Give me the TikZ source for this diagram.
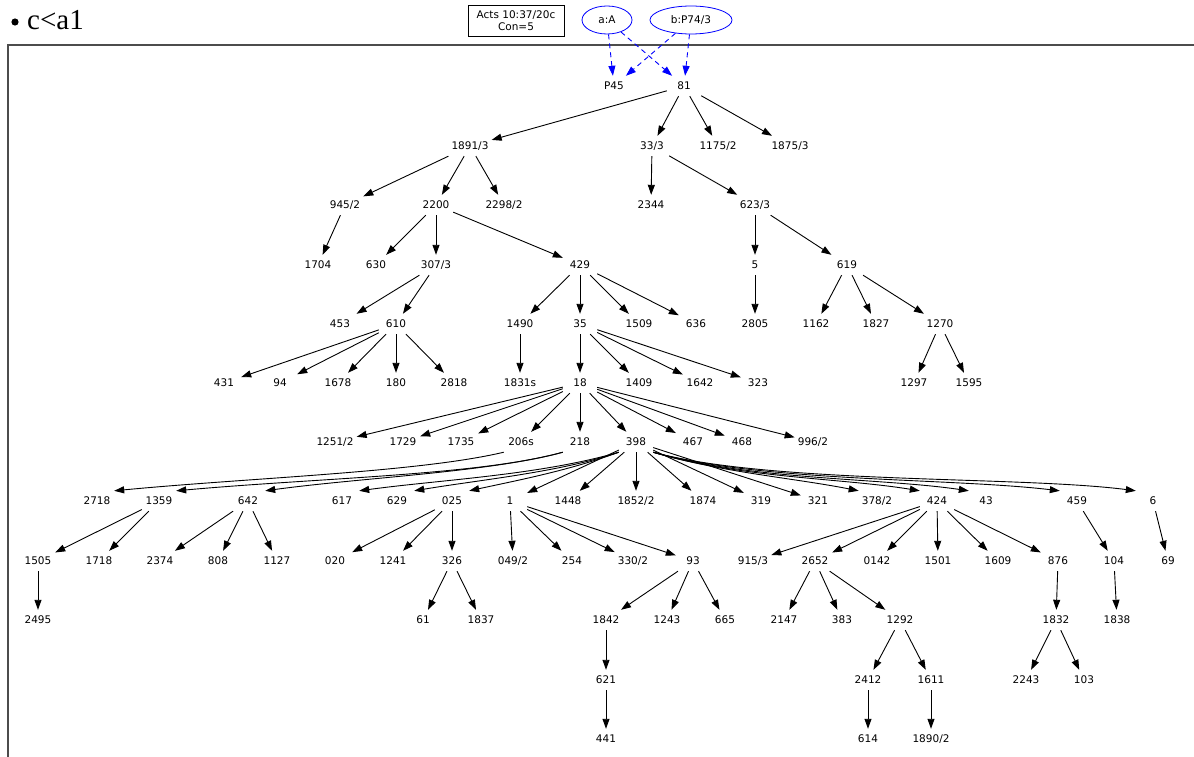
\documentclass[tikz,border=0pt]{standalone}
\usepackage{fontspec}
\newfontfamily\gvfont{DejaVu Sans}
\newfontfamily\titlefont{Liberation Serif}
\usetikzlibrary{arrows.meta}
\usetikzlibrary{shapes.geometric}

\begin{document}
\begin{tikzpicture}[x=1pt,y=-1pt,
    lbl/.style={font=\gvfont\fontsize{10.5}{12.5}\selectfont,inner xsep=3pt,inner ysep=0pt,minimum width=34pt,minimum height=20pt},
    lnk/.style={-{Triangle[length=10pt,width=7pt]},line width=0.9pt},
    dlnk/.style={lnk,blue,dash pattern=on 5pt off 4pt}]
  % Boundary
  \path[use as bounding box] (0,0) rectangle (1194,757);
  % Heading and frame
  \fill (15,22) circle (3.6);
  \node[anchor=base west,inner sep=0,font=\titlefont\fontsize{29}{29}\selectfont] (title) at (27,30) {c<a1};
  \draw[line width=1.3pt,black!70] (1194,45) -- (8,45) -- (8,757);
  % Witnesses
  \node[lbl,draw,line width=0.8pt,align=center,minimum width=96,minimum height=31,inner sep=0] (acts) at (516,20.5) {Acts 10:37/20c\\Con=5};
  \node[lbl,ellipse,draw=blue,line width=0.8pt,minimum width=50,minimum height=28,inner sep=0] (wa) at (607,20) {a:A};
  \node[lbl,ellipse,draw=blue,line width=0.8pt,minimum width=82,minimum height=28,inner sep=0] (wb) at (691,20) {b:P74/3};
  % Rows of readings
  \foreach \n/\x/\lab in {P45/614/P45,81/684/81}
    \node[lbl] (n\n) at (\x,86) {\lab};
  \foreach \n/\x/\lab in {1891-3/470/{1891/3},33-3/652/{33/3},1175-2/718/{1175/2},1875-3/790/{1875/3}}
    \node[lbl] (n\n) at (\x,146) {\lab};
  \foreach \n/\x/\lab in {945-2/345/{945/2},2200/436/2200,2298-2/504/{2298/2},2344/651/2344,623-3/755/{623/3}}
    \node[lbl] (n\n) at (\x,205) {\lab};
  \foreach \n/\x/\lab in {1704/318/1704,630/376/630,307-3/436/{307/3},429/580/429,5/755/5,619/847/619}
    \node[lbl] (n\n) at (\x,265) {\lab};
  \foreach \n/\x in {453/340,610/396,1490/520,35/580,1509/639,636/696,2805/755,1162/816,1827/876,1270/940}
    \node[lbl] (n\n) at (\x,324) {\n};
  \foreach \n/\x in {431/224,94/280,1678/338,180/396,2818/454,1831s/520,18/580,1409/639,1642/700,323/758,1297/914,1595/969}
    \node[lbl] (n\n) at (\x,383) {\n};
  \foreach \n/\x/\lab in {1251-2/335/{1251/2},1729/403/1729,1735/461/1735,206s/521/206s,218/580/218,398/636/398,467/693/467,468/742/468,996-2/813/{996/2}}
    \node[lbl] (n\n) at (\x,442) {\lab};
  \foreach \n/\x/\lab in {2718/97/2718,1359/159/1359,642/248/642,617/342/617,629/397/629,025/452/025,1/510/1,1448/568/1448,1852-2/636/{1852/2},1874/703/1874,319/761/319,321/818/321,378-2/877/{378/2},424/937/424,43/986/43,459/1077/459,6/1153/6}
    \node[lbl] (n\n) at (\x,501) {\lab};
  \foreach \n/\x/\lab in {1505/38/1505,1718/99/1718,2374/160/2374,808/218/808,1127/277/1127,020/335/020,1241/393/1241,326/452/326,049-2/513/{049/2},254/572/254,330-2/633/{330/2},93/693/93,915-3/753/{915/3},2652/815/2652,0142/877/0142,1501/938/1501,1609/998/1609,876/1058/876,104/1114/104,69/1168/69}
    \node[lbl] (n\n) at (\x,561) {\lab};
  \foreach \n/\x in {2495/38,61/423,1837/481,1842/606,1243/667,665/725,2147/784,383/842,1292/900,1832/1056,1838/1117}
    \node[lbl] (n\n) at (\x,620) {\n};
  \foreach \n/\x in {621/606,2412/868,1611/931,2243/1026,103/1084}
    \node[lbl] (n\n) at (\x,680) {\n};
  \foreach \n/\x/\lab in {441/606/441,614/868/614,1890-2/931/{1890/2}}
    \node[lbl] (n\n) at (\x,739) {\lab};
  % Witness links
  \draw[dlnk] (wa) -- (nP45);
  \draw[dlnk] (wa) -- (n81);
  \draw[dlnk] (wb) -- (nP45);
  \draw[dlnk] (wb) -- (n81);
  % Straight links, parent/children
  \foreach \p/\cs in {81/{1891-3,33-3,1175-2,1875-3},1891-3/{945-2,2200,2298-2},33-3/{2344,623-3},945-2/{1704},
      2200/{630,307-3,429},623-3/{5,619},307-3/{453,610},429/{1490,35,1509,636},5/{2805},619/{1162,1827,1270},
      610/{431,94,1678,180,2818},1490/{1831s},35/{18,1409,1642,323},1270/{1297,1595},
      18/{1251-2,1729,1735,206s,218,398,467,468,996-2},398/{1,1448,1852-2,1874,319,321},
      1359/{1505,1718},642/{2374,808,1127},025/{020,1241,326},1/{049-2,254,330-2,93},
      424/{915-3,2652,0142,1501,1609,876},459/{104},6/{69},1505/{2495},326/{61,1837},93/{1842,1243,665},
      2652/{2147,383,1292},876/{1832},104/{1838},1842/{621},1292/{2412,1611},1832/{2243,103},
      621/{441},2412/{614},1611/{1890-2}}
    \foreach \c in \cs
      \draw[lnk] (n\p) -- (n\c);
  % Curved links
  \draw[lnk] (n206s.south west) .. controls +(-84,20) and +(136,-13) .. (n2718.north east);
  \draw[lnk] (n218.south west) .. controls +(-83,23) and +(144,-13) .. (n1359.north east);
  \draw[lnk] (n218.south west) .. controls +(-73,20) and +(95,-13) .. (n642.north east);
  \draw[lnk] (n398.south west) .. controls +(-79,23) and +(81,-11) .. (n617.north east);
  \draw[lnk] (n398.south west) .. controls +(-59,20) and +(66,-11) .. (n629.north east);
  \draw[lnk] (n398.south west) .. controls +(-49,18) and +(51,-11) .. (n025.north east);
  \draw[lnk] (n398.south east) .. controls +(67,20) and +(-66,-13) .. (n378-2.north west);
  \draw[lnk] (n398.south east) .. controls +(87,26) and +(-80,-13) .. (n424.north west);
  \draw[lnk] (n398.south east) .. controls +(97,28) and +(-89,-13) .. (n43.north west);
  \draw[lnk] (n398.south east) .. controls +(107,30) and +(-110,-13) .. (n459.north west);
  \draw[lnk] (n398.south east) .. controls +(117,32) and +(-116,-15) .. (n6.north west);
\end{tikzpicture}
\end{document}
